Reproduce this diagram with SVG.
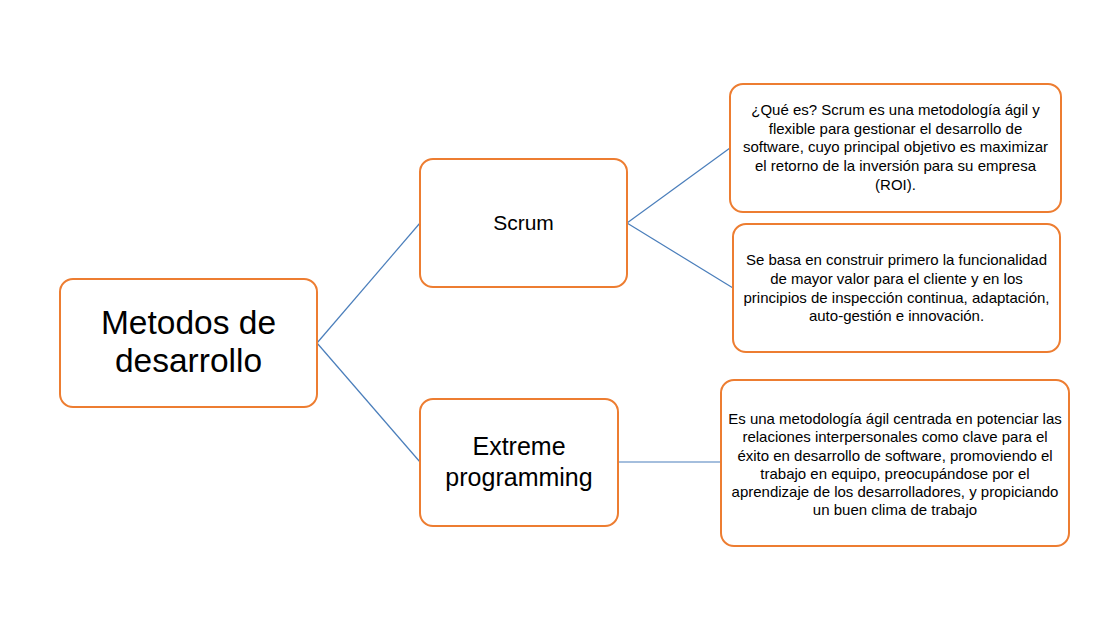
<svg xmlns="http://www.w3.org/2000/svg" width="1106" height="624" viewBox="0 0 1106 624">
<style>
.box{fill:#fff;stroke:#ED7D31;stroke-width:2}
.t{font-family:"Liberation Sans",Arial,sans-serif;fill:#000;text-anchor:middle}
.s{font-size:15px}
.c{stroke:#4A7EBB;stroke-width:1.2;fill:none}
</style>
<rect width="1106" height="624" fill="#fff"/>
<g id="connectors">
<line class="c" x1="317" y1="343" x2="420" y2="223"/>
<line class="c" x1="317" y1="343" x2="420" y2="462"/>
<line class="c" x1="627" y1="223" x2="730" y2="148"/>
<line class="c" x1="627" y1="223" x2="733" y2="288"/>
<line class="c" x1="618" y1="462" x2="721" y2="462"/>
</g>
<g id="root">
<rect class="box" x="60" y="279" width="257" height="128" rx="13"/>
<text class="t" x="188.5" y="334" font-size="33.5">Metodos de</text>
<text class="t" x="188.5" y="372" font-size="33.5">desarrollo</text>
</g>
<g id="scrum">
<rect class="box" x="420" y="159" width="207" height="128" rx="13"/>
<text class="t" x="523.5" y="230" font-size="21">Scrum</text>
</g>
<g id="xp">
<rect class="box" x="420" y="399" width="198" height="127" rx="13"/>
<text class="t" x="519" y="455" font-size="25">Extreme</text>
<text class="t" x="519" y="486" font-size="25">programming</text>
</g>
<g id="scrum-what">
<rect class="box" x="730" y="84" width="331" height="128" rx="13"/>
<text class="t s" x="895.5" y="115">¿Qué es? Scrum es una metodología ágil y</text>
<text class="t s" x="895.5" y="134">flexible para gestionar el desarrollo de</text>
<text class="t s" x="895.5" y="152">software, cuyo principal objetivo es maximizar</text>
<text class="t s" x="895.5" y="171">el retorno de la inversión para su empresa</text>
<text class="t s" x="895.5" y="190">(ROI).</text>
</g>
<g id="scrum-basis">
<rect class="box" x="733" y="224" width="327" height="128" rx="13"/>
<text class="t s" x="896.5" y="265">Se basa en construir primero la funcionalidad</text>
<text class="t s" x="896.5" y="284">de mayor valor para el cliente y en los</text>
<text class="t s" x="896.5" y="303">principios de inspección continua, adaptación,</text>
<text class="t s" x="896.5" y="321">auto-gestión e innovación.</text>
</g>
<g id="xp-desc">
<rect class="box" x="721" y="380" width="348" height="166" rx="13"/>
<text class="t s" x="895" y="424">Es una metodología ágil centrada en potenciar las</text>
<text class="t s" x="895" y="442">relaciones interpersonales como clave para el</text>
<text class="t s" x="895" y="461">éxito en desarrollo de software, promoviendo el</text>
<text class="t s" x="895" y="479">trabajo en equipo, preocupándose por el</text>
<text class="t s" x="895" y="497">aprendizaje de los desarrolladores, y propiciando</text>
<text class="t s" x="895" y="515">un buen clima de trabajo</text>
</g>
</svg>
